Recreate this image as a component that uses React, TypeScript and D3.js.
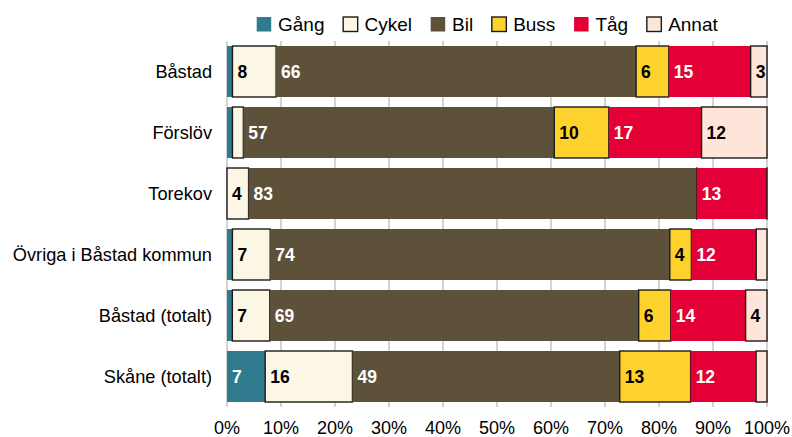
import React, { useEffect, useRef } from "react";
import * as d3 from "d3";

const categories = [
  "Båstad",
  "Förslöv",
  "Torekov",
  "Övriga i Båstad kommun",
  "Båstad (totalt)",
  "Skåne (totalt)",
];
const seriesNames = ["Gång", "Cykel", "Bil", "Buss", "Tåg", "Annat"];
const gang = [1, 1, 0, 1, 1, 7];
const cykel = [8, 2, 4, 7, 7, 16];
const bil = [66, 57, 83, 74, 69, 49];
const buss = [6, 10, 0, 4, 6, 13];
const tag = [15, 17, 13, 12, 14, 12];
const annat = [3, 12, 0, 2, 4, 2];
const xTicks = [0, 0.1, 0.2, 0.3, 0.4, 0.5, 0.6, 0.7, 0.8, 0.9, 1];

const colors = ["#317b8e", "#fcf6e4", "#5e5139", "#fdd22c", "#e40037", "#fde5da"];
const outlined = [false, true, false, true, false, true];
const darkText = [false, true, false, true, false, true];

const W = 792;
const H = 437;
const margin = { top: 41, right: 25, bottom: 30, left: 227 };
const FONT = "'Liberation Sans', Arial, sans-serif";

const App = () => {
  const ref = useRef<SVGSVGElement | null>(null);

  useEffect(() => {
    document.body.style.margin = "0";
    const svg = d3.select(ref.current);
    svg.selectAll("*").remove();

    const rows = categories.map((c, i) => ({
      cat: c,
      Gång: gang[i],
      Cykel: cykel[i],
      Bil: bil[i],
      Buss: buss[i],
      Tåg: tag[i],
      Annat: annat[i],
    }));
    const stacked = d3
      .stack<any>()
      .keys(seriesNames)
      .offset(d3.stackOffsetExpand)(rows);

    const x = d3.scaleLinear().domain([0, 1]).range([margin.left, W - margin.right]);
    const y = d3
      .scaleBand()
      .domain(categories)
      .range([margin.top, H - margin.bottom])
      .paddingInner(0.164)
      .paddingOuter(0.082);

    // gridlines
    svg
      .append("g")
      .selectAll("line")
      .data(xTicks)
      .join("line")
      .attr("x1", (d) => x(d))
      .attr("x2", (d) => x(d))
      .attr("y1", margin.top)
      .attr("y2", H - margin.bottom)
      .attr("stroke", "#c4c4c4")
      .attr("stroke-width", 1.5);

    // bars
    const groups = svg
      .append("g")
      .selectAll("g")
      .data(stacked)
      .join("g")
      .attr("fill", (d, i) => colors[i]);

    groups
      .selectAll("rect")
      .data((s, i) => s.map((p) => ({ p, i })))
      .join("rect")
      .attr("x", (d) => x(d.p[0]))
      .attr("y", (d) => y(d.p.data.cat)!)
      .attr("width", (d) => Math.max(0.01, x(d.p[1]) - x(d.p[0])))
      .attr("height", y.bandwidth())
      .attr("stroke", (d) => (outlined[d.i] ? "#1a1a1a" : "none"))
      .attr("stroke-width", 1.4);

    // value labels
    groups
      .selectAll("text")
      .data((s, i) =>
        s.map((p, j) => ({ p, i, v: rows[j][seriesNames[i]] })).filter((d) => d.v >= 3)
      )
      .join("text")
      .attr("x", (d) => x(d.p[0]) + 5)
      .attr("y", (d) => y(d.p.data.cat)! + y.bandwidth() / 2)
      .attr("dy", "0.36em")
      .attr("fill", (d) => (darkText[d.i] ? "#000" : "#fff"))
      .style("font-family", FONT)
      .style("font-weight", "bold")
      .style("font-size", "17.5px")
      .text((d) => d.v);

    // category labels
    svg
      .append("g")
      .selectAll("text")
      .data(categories)
      .join("text")
      .attr("x", margin.left - 15)
      .attr("y", (d) => y(d)! + y.bandwidth() / 2)
      .attr("dy", "0.36em")
      .attr("text-anchor", "end")
      .attr("fill", "#000")
      .style("font-family", FONT)
      .style("font-size", "18.2px")
      .text((d) => d);

    // x tick labels
    svg
      .append("g")
      .selectAll("text")
      .data(xTicks)
      .join("text")
      .attr("x", (d) => x(d))
      .attr("y", 434)
      .attr("text-anchor", "middle")
      .attr("fill", "#000")
      .style("font-family", FONT)
      .style("font-size", "18px")
      .text((d) => d3.format(".0%")(d));

    // legend
    const legend = svg.append("g").attr("transform", "translate(256, 24)");
    let lx = 0;
    seriesNames.forEach((name, i) => {
      const item = legend.append("g").attr("transform", `translate(${lx}, 0)`);
      item
        .append("rect")
        .attr("x", 0.7)
        .attr("y", -7)
        .attr("width", 14.5)
        .attr("height", 14.5)
        .attr("fill", colors[i])
        .attr("stroke", outlined[i] ? "#1a1a1a" : "none")
        .attr("stroke-width", 1.4);
      const t = item
        .append("text")
        .attr("x", 22)
        .attr("y", 0)
        .attr("dy", "0.36em")
        .attr("fill", "#000")
        .style("font-family", FONT)
        .style("font-size", "19px")
        .text(name);
      const tw = (t.node() as SVGTextElement).getComputedTextLength();
      lx += 22 + tw + 18;
    });
  }, []);

  return <svg ref={ref} width={W} height={H} style={{ display: "block" }} />;
};

export default App;
